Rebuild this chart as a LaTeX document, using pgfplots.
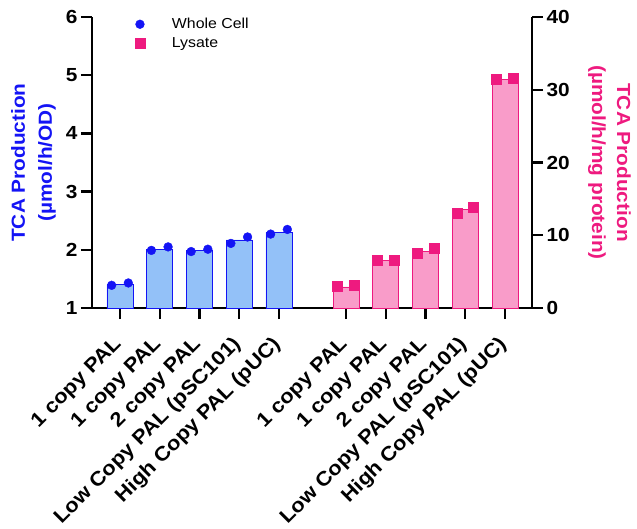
\documentclass[border=0pt]{standalone}
\usepackage{pgfplots}
\pgfplotsset{compat=1.18}
\usepackage{fontspec}
\setmainfont{Liberation Sans}[FakeStretch=1.1]
\definecolor{cblue}{HTML}{1414F5}
\definecolor{cbluefill}{HTML}{93C1F8}
\definecolor{cpink}{HTML}{EE1A7F}
\definecolor{cpinkfill}{HTML}{F99CC9}
\newcommand{\tickfont}{\fontsize{19}{22}\selectfont\bfseries}
\newcommand{\xtickfont}{\fontsize{20}{23}\selectfont\bfseries}
\begin{document}
\begin{tikzpicture}
\pgfplotsset{
  common/.style={
    scale only axis, width=440bp, height=291bp,
    xmin=-0.704, xmax=10.365,
    axis line style={line width=2.6bp, black},
    tick style={line width=2.4bp, black},
    tick align=outside,
    major tick length=11bp,
    /pgf/number format/assume math mode=true,
    yticklabel style={font=\tickfont},
  },
  myleg/.style={legend image code/.code={\path[##1] plot coordinates {(0.3cm,0cm)}; \path (0cm,0cm) (1.35cm,0cm);}},
}
\begin{axis}[common, name=ax1,
  ymin=1, ymax=6, ytick={1,2,3,4,5,6},
  axis x line*=bottom, axis y line*=left,
  xtick={0,1,2,3,4,5.686,6.686,7.686,8.686,9.686},
  xticklabels={1 copy PAL, 1 copy PAL, 2 copy PAL, Low Copy PAL (pSC101), High Copy PAL (pUC),
               1 copy PAL, 1 copy PAL, 2 copy PAL, Low Copy PAL (pSC101), High Copy PAL (pUC)},
  xticklabel style={xshift=1bp, yshift=-20bp, rotate=45, anchor=east, font=\xtickfont},
  ylabel={TCA Production\\(µmol/h/OD)},
  ylabel style={align=center, font=\fontsize{19}{27}\selectfont\bfseries, text=cblue,
                at={(axis description cs:-0.133,0.5)}, anchor=center},
  legend style={draw=none, fill=none, font=\fontsize{14.5}{17}\selectfont,
                at={(axis description cs:0.082,1.010)}, anchor=north west,
                cells={anchor=west}, row sep=3bp},
]
\addplot[ybar, bar width=26bp, fill=cbluefill, draw=cblue, line width=0.8bp, forget plot]
  coordinates {(0,1.40) (1,2.01) (2,1.99) (3,2.17) (4,2.30)};
\addplot[only marks, mark=*, mark size=4.4bp, color=cblue, myleg]
  coordinates {(-0.21,1.39) (0.21,1.43) (0.79,1.99) (1.21,2.05) (1.79,1.97) (2.21,2.01)
               (2.79,2.11) (3.21,2.22) (3.79,2.27) (4.21,2.35)};
\addlegendentry{Whole Cell}
\addlegendimage{only marks, mark=square*, mark size=5bp, color=cpink, myleg}
\addlegendentry{Lysate}
\end{axis}
\begin{axis}[common,
  ymin=0, ymax=40, ytick={0,10,20,30,40},
  axis x line=none, axis y line*=right, xtick=\empty,
  ylabel={TCA Production\\(µmol/h/mg protein)},
  ylabel style={align=center, font=\fontsize{19}{25}\selectfont\bfseries, text=cpink,
                at={(axis description cs:1.176,0.5)}, anchor=center, rotate=-180},
]
\addplot[ybar, bar width=26bp, fill=cpinkfill, draw=cpink, line width=0.8bp]
  coordinates {(5.686,2.9) (6.686,6.5) (7.686,7.8) (8.686,13.5) (9.686,31.4)};
\addplot[only marks, mark=square*, mark size=5bp, color=cpink]
  coordinates {(5.476,2.97) (5.896,3.10) (6.476,6.54) (6.896,6.63) (7.476,7.54) (7.896,8.18)
               (8.476,13.03) (8.896,13.85) (9.476,31.4) (9.896,31.6)};
\end{axis}
\pgfresetboundingbox
\path (ax1.south west) ++(-92bp,-221bp) rectangle ++(637bp,529bp);
\end{tikzpicture}
\end{document}
